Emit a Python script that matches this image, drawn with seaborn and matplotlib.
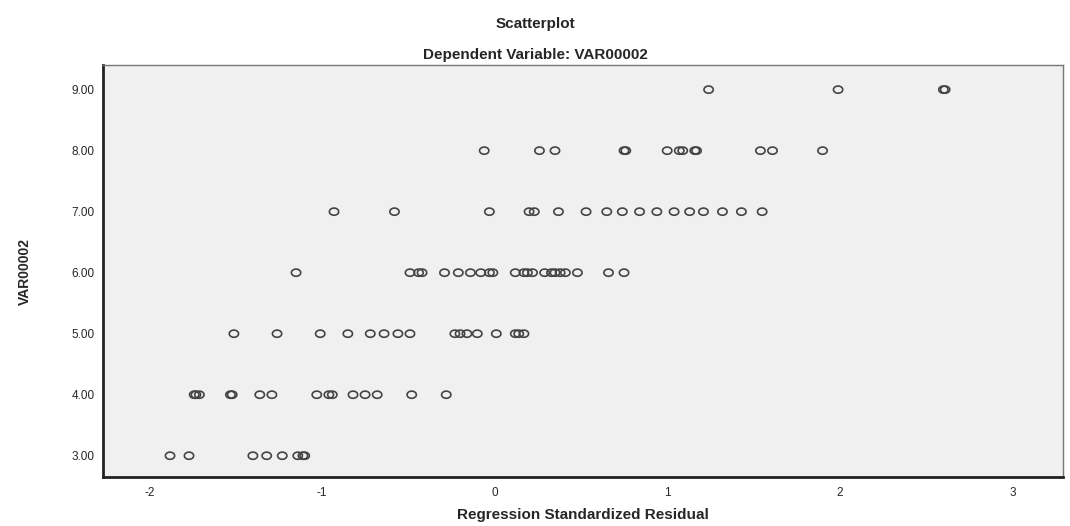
import numpy as np
import pandas as pd
import matplotlib
matplotlib.use('Agg')
import matplotlib.pyplot as plt
import seaborn as sns
from matplotlib.path import Path

# residual values, one list per level of VAR00002
res_9 = [1.24, 1.99, 2.6, 2.61]
res_8 = [-0.06, 0.26, 0.35, 0.75, 0.76, 1.0, 1.07, 1.09, 1.16, 1.17, 1.54, 1.61, 1.9]
res_7 = [-0.93, -0.58, -0.03, 0.2, 0.23, 0.37, 0.53, 0.65, 0.74, 0.84, 0.94,
         1.04, 1.13, 1.21, 1.32, 1.43, 1.55]
res_6 = [-1.15, -0.49, -0.44, -0.42, -0.29, -0.21, -0.14, -0.08, -0.03, -0.01,
         0.12, 0.17, 0.19, 0.22, 0.29, 0.33, 0.35, 0.38, 0.41, 0.48, 0.66, 0.75]
res_5 = [-1.51, -1.26, -1.01, -0.85, -0.72, -0.64, -0.56, -0.49, -0.23, -0.2,
         -0.16, -0.1, 0.01, 0.12, 0.14, 0.17]
res_4 = [-1.74, -1.73, -1.71, -1.53, -1.52, -1.36, -1.29, -1.03, -0.96, -0.94,
         -0.82, -0.75, -0.68, -0.48, -0.28]
res_3 = [-1.88, -1.77, -1.4, -1.32, -1.23, -1.14, -1.11, -1.1]

levels = [9, 8, 7, 6, 5, 4, 3]
rows = [res_9, res_8, res_7, res_6, res_5, res_4, res_3]

x_ticks = [-2, -1, 0, 1, 2, 3]
x_ticklabels = ['-2', '-1', '0', '1', '2', '3']
y_ticks = [3, 4, 5, 6, 7, 8, 9]
y_ticklabels = ['3.00', '4.00', '5.00', '6.00', '7.00', '8.00', '9.00']

df = pd.DataFrame({
    'resid': [r for row in rows for r in row],
    'var2': [lv for lv, row in zip(levels, rows) for _ in row],
})

sns.set_style('white')
plt.rcParams['font.family'] = ['Liberation Sans', 'DejaVu Sans']

fig = plt.figure(figsize=(10.7, 5.26), dpi=100)
ax = fig.add_axes([0.096, 0.093, 0.897, 0.783])
ax.set_facecolor('#f0f0f0')

# spss style circles look a bit wider than tall
t = np.linspace(0, 2 * np.pi, 40)
ellipse = Path(np.column_stack([1.3 * np.cos(t), np.sin(t)]))

sns.scatterplot(data=df, x='resid', y='var2', ax=ax, marker=ellipse, s=45,
                facecolor='none', edgecolor='#444444', linewidth=1.2)

ax.set_xlim(-2.27, 3.29)
ax.set_ylim(2.65, 9.4)
ax.set_xticks(x_ticks)
ax.set_xticklabels(x_ticklabels)
ax.set_yticks(y_ticks)
ax.set_yticklabels(y_ticklabels)
ax.tick_params(axis='both', labelsize=8.5, length=4, direction='out', color='#333333')
ax.tick_params(axis='y', pad=2)

for side in ['left', 'bottom']:
    ax.spines[side].set_color('#222222')
    ax.spines[side].set_linewidth(2)
for side in ['top', 'right']:
    ax.spines[side].set_color('#777777')
    ax.spines[side].set_linewidth(1)

ax.set_xlabel('Regression Standardized Residual', fontsize=11, fontweight='bold', labelpad=6)
ax.set_ylabel('VAR00002', fontsize=10, fontweight='bold', labelpad=28,
              family=['Liberation Sans Narrow', 'Liberation Sans', 'DejaVu Sans'])

fig.text(0.5, 0.955, 'Scatterplot', ha='center', va='center', fontsize=11, fontweight='bold')
fig.text(0.5, 0.895, 'Dependent Variable: VAR00002', ha='center', va='center',
         fontsize=11, fontweight='bold')

fig.savefig('out.png', dpi=100)
